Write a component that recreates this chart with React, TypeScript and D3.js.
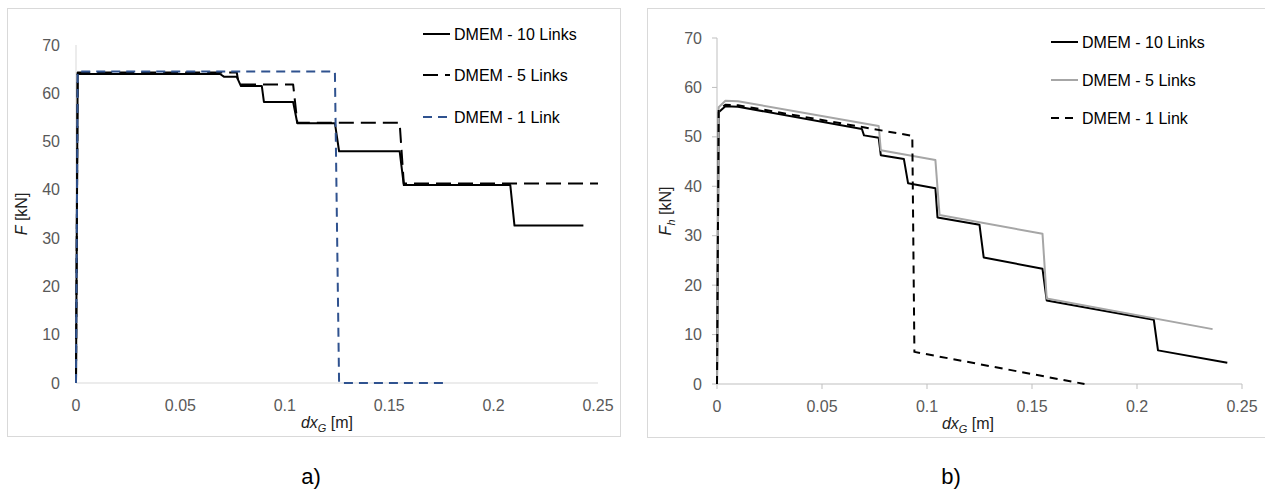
import React from "react";
import * as d3 from "d3";

// ---------- data ----------
const xTickValues = [0, 0.05, 0.1, 0.15, 0.2, 0.25];
const xTickLabels = ["0", "0.05", "0.1", "0.15", "0.2", "0.25"];
const yTickValues = [0, 10, 20, 30, 40, 50, 60, 70];

// Panel a) F vs dxG
const a10LinksX = [0, 0.0008, 0.069, 0.071, 0.077, 0.079, 0.089, 0.090, 0.104, 0.106, 0.124, 0.126, 0.155, 0.157, 0.208, 0.210, 0.243];
const a10LinksY = [0, 64.0, 64.0, 63.4, 63.4, 61.5, 61.5, 58.2, 58.2, 53.8, 53.8, 48.0, 48.0, 41.0, 41.0, 32.6, 32.6];
const a5LinksX = [0, 0.0008, 0.077, 0.078, 0.104, 0.106, 0.155, 0.157, 0.25];
const a5LinksY = [0, 64.3, 64.3, 61.8, 61.8, 53.9, 53.9, 41.3, 41.3];
const a1LinkX = [0, 0.0008, 0.124, 0.126, 0.177];
const a1LinkY = [0, 64.5, 64.5, 0, 0];

// Panel b) Fh vs dxG
const b10LinksX = [0, 0.0008, 0.004, 0.010, 0.069, 0.070, 0.077, 0.078, 0.089, 0.091, 0.104, 0.105, 0.125, 0.127, 0.155, 0.157, 0.208, 0.210, 0.243];
const b10LinksY = [0, 55.0, 56.2, 56.1, 51.6, 50.3, 49.8, 46.3, 45.5, 40.6, 39.6, 33.7, 32.2, 25.6, 23.3, 16.9, 13.0, 6.8, 4.3];
const b5LinksX = [0, 0.0008, 0.004, 0.010, 0.077, 0.078, 0.104, 0.106, 0.155, 0.157, 0.236];
const b5LinksY = [0, 56.0, 57.3, 57.2, 52.2, 47.3, 45.3, 34.2, 30.4, 17.3, 11.1];
const b1LinkX = [0, 0.0008, 0.004, 0.010, 0.093, 0.094, 0.175];
const b1LinkY = [0, 55.5, 56.5, 56.4, 50.2, 6.5, 0];

const legendA = ["DMEM - 10 Links", "DMEM - 5 Links", "DMEM - 1 Link"];
const legendB = ["DMEM - 10 Links", "DMEM - 5 Links", "DMEM - 1 Link"];

const FONT = "'Liberation Sans', Arial, Helvetica, sans-serif";

type Series = { xs: number[]; ys: number[]; color: string; dash?: string; width: number; name: string };

function zipPts(xs: number[], ys: number[]): [number, number][] {
  return xs.map((x, i) => [x, ys[i]]);
}

function Panel(props: {
  x0: number; x1: number; yTop: number; yBot: number;
  series: Series[]; ticks: boolean; axisColor: string;
  yLabelX: number; yLabelSub?: string; xLabelX: number;
  tickLabelRight: number;
  legendLineX: number; legendRows: number[];
}) {
  const { x0, x1, yTop, yBot, series, ticks, axisColor } = props;
  const xs = d3.scaleLinear().domain([0, 0.25]).range([x0, x1]);
  const ys = d3.scaleLinear().domain([0, 70]).range([yBot, yTop]);
  const line = d3.line<[number, number]>().x(d => xs(d[0])).y(d => ys(d[1]));
  const yMid = (yTop + yBot) / 2;
  return (
    <g>
      {/* axes */}
      <line x1={x0} x2={x0} y1={yTop} y2={yBot} stroke={axisColor} strokeWidth={1} />
      <line x1={x0} x2={x1} y1={yBot} y2={yBot} stroke={axisColor} strokeWidth={1} />
      {ticks && yTickValues.map(v => (
        <line key={"yt" + v} x1={x0 - 5} x2={x0} y1={ys(v)} y2={ys(v)} stroke={axisColor} />
      ))}
      {ticks && xTickValues.map(v => (
        <line key={"xt" + v} x1={xs(v)} x2={xs(v)} y1={yBot} y2={yBot + 5} stroke={axisColor} />
      ))}
      {yTickValues.map(v => (
        <text key={"yl" + v} x={props.tickLabelRight} y={ys(v)} dy="0.35em" textAnchor="end"
          fontFamily={FONT} fontSize={16} fill="#595959">{v}</text>
      ))}
      {xTickValues.map((v, i) => (
        <text key={"xl" + v} x={xs(v)} y={yBot + 22} dy="0.35em" textAnchor="middle"
          fontFamily={FONT} fontSize={16} fill="#595959">{xTickLabels[i]}</text>
      ))}
      {/* x label */}
      <text x={props.xLabelX} y={yBot + 45} textAnchor="middle" fontFamily={FONT} fontSize={16} fill="#222">
        <tspan fontStyle="italic">dx</tspan>
        <tspan fontStyle="italic" fontSize={11} dy={4}>G</tspan>
        <tspan dy={-4}> [m]</tspan>
      </text>
      {/* y label */}
      <text transform={`translate(${props.yLabelX},${yMid}) rotate(-90)`} textAnchor="middle" dy="0.35em"
        fontFamily={FONT} fontSize={16} fill="#222">
        <tspan fontStyle="italic">F</tspan>
        {props.yLabelSub ? <tspan fontStyle="italic" fontSize={11} dy={4}>{props.yLabelSub}</tspan> : null}
        <tspan dy={props.yLabelSub ? -4 : 0}> [kN]</tspan>
      </text>
      {/* series */}
      {series.map((s, i) => (
        <path key={"s" + i} d={line(zipPts(s.xs, s.ys)) || ""} fill="none" stroke={s.color}
          strokeWidth={s.width} strokeDasharray={s.dash} strokeLinejoin="round" />
      ))}
      {/* legend */}
      {series.map((s, i) => (
        <g key={"lg" + i}>
          <line x1={props.legendLineX} x2={props.legendLineX + 27} y1={props.legendRows[i]} y2={props.legendRows[i]}
            stroke={s.color} strokeWidth={s.width} strokeDasharray={s.dash} />
          <text x={props.legendLineX + 31} y={props.legendRows[i]} dy="0.35em" fontFamily={FONT} fontSize={16} fill="#000">{s.name}</text>
        </g>
      ))}
    </g>
  );
}

export default function App() {
  const seriesA: Series[] = [
    { xs: a10LinksX, ys: a10LinksY, color: "#000", width: 2, name: legendA[0] },
    { xs: a5LinksX, ys: a5LinksY, color: "#000", width: 2, dash: "15,7", name: legendA[1] },
    { xs: a1LinkX, ys: a1LinkY, color: "#2F528F", width: 2, dash: "9,6", name: legendA[2] },
  ];
  const seriesB: Series[] = [
    { xs: b10LinksX, ys: b10LinksY, color: "#000", width: 2, name: legendB[0] },
    { xs: b5LinksX, ys: b5LinksY, color: "#A6A6A6", width: 2, name: legendB[1] },
    { xs: b1LinkX, ys: b1LinkY, color: "#000", width: 2, dash: "8,6", name: legendB[2] },
  ];
  return (
    <svg width={1265} height={491} style={{ position: "absolute", left: 0, top: 0, background: "#fff" }}>
      <rect x={0} y={0} width={1265} height={491} fill="#fff" />
      <rect x={7.5} y={8.5} width={613} height={428} fill="#fff" stroke="#d9d9d9" />
      <rect x={647.5} y={8.5} width={630} height={429} fill="#fff" stroke="#d9d9d9" />
      <Panel x0={76} x1={598} yTop={45} yBot={383} series={seriesA} ticks={false} axisColor="#d9d9d9"
        yLabelX={21} xLabelX={327} tickLabelRight={60} legendLineX={423} legendRows={[34, 75, 117]} />
      <Panel x0={717} x1={1242} yTop={38} yBot={384} series={seriesB} ticks={true} axisColor="#bfbfbf"
        yLabelX={665} yLabelSub="h" xLabelX={968} tickLabelRight={702} legendLineX={1051} legendRows={[42, 80, 118]} />
      <text x={311} y={484} textAnchor="middle" fontFamily={FONT} fontSize={22} fill="#000">a)</text>
      <text x={951} y={484} textAnchor="middle" fontFamily={FONT} fontSize={22} fill="#000">b)</text>
    </svg>
  );
}
